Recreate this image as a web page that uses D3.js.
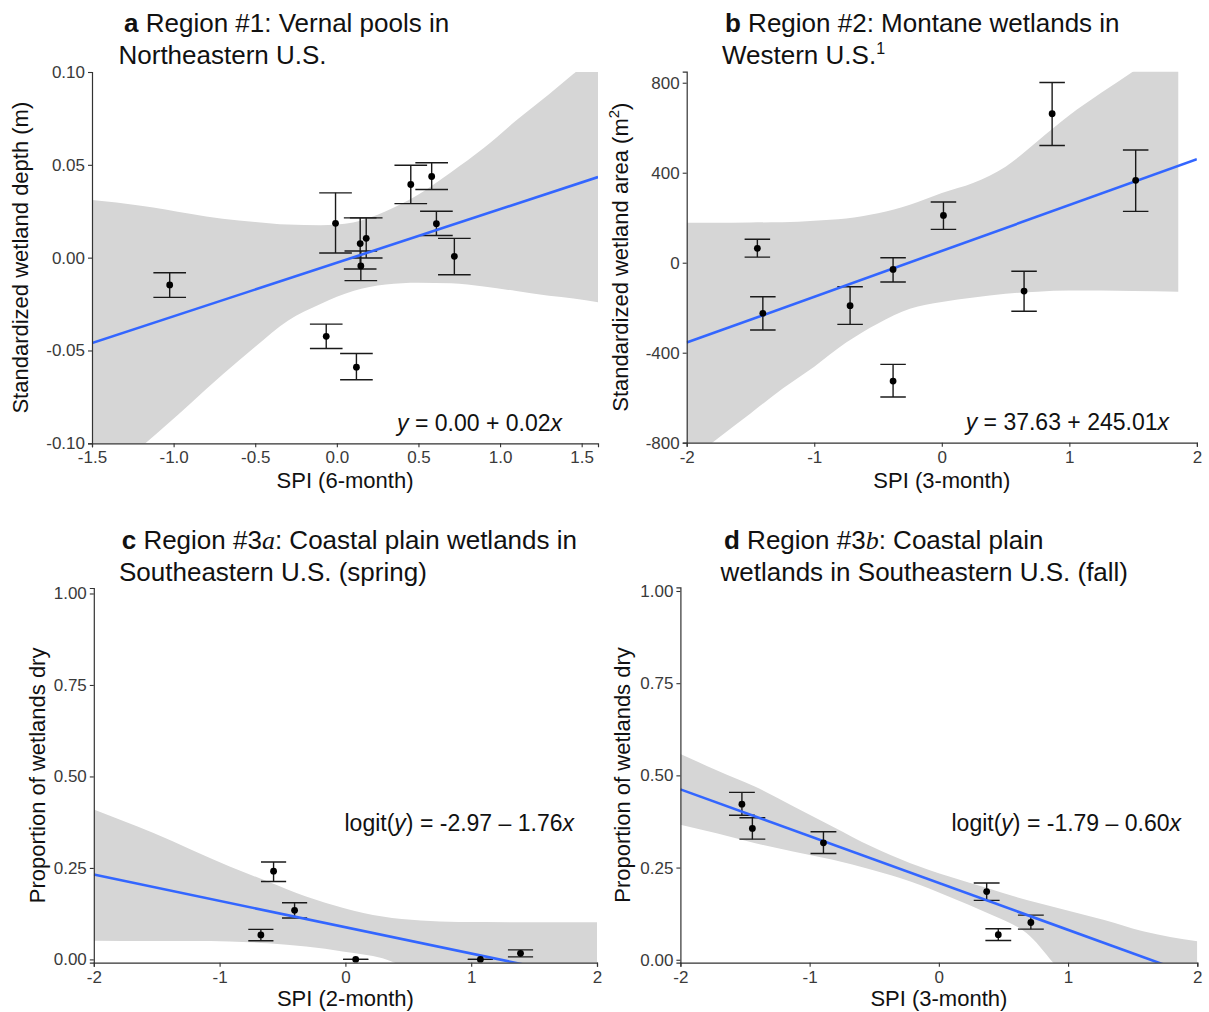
<!DOCTYPE html>
<html><head><meta charset="utf-8">
<script src="https://cdn.jsdelivr.net/npm/d3@7"></script>
<style>
body{margin:0;background:#fff}
svg{display:block}
text{font-family:"Liberation Sans",Arial,Helvetica,sans-serif}
</style>
</head><body>
<svg id="chart" width="1209" height="1012"></svg>
<script>
// ---------------- DATA ----------------
// Panel a: Region #1 vernal pools
const spiA      = [-1.024, -0.008, -0.065, 0.143, 0.180, 0.147, 0.453, 0.581, 0.610, 0.720, 0.120];
const depthA    = [-0.0147, 0.0185, -0.0424, 0.0076, 0.0104, -0.0045, 0.0394, 0.0437, 0.0183, 0.0007, -0.0590];
const depthA_lo = [-0.0214, 0.0025, -0.0489, -0.0061, -0.0002, -0.0124, 0.0291, 0.0367, 0.0119, -0.0092, -0.0658];
const depthA_hi = [-0.0081, 0.0349, -0.0358, 0.0214, 0.0214, 0.0036, 0.0498, 0.0511, 0.0250, 0.0104, -0.0516];
const lineA_x = [-1.5, 1.6];
const lineA_y = [-0.046, 0.0434];
const bandA_x  = [-1.5, -1.2, -0.9, -0.7, -0.5, -0.3, -0.1, 0.1, 0.3, 0.5, 0.7, 0.9, 1.1, 1.3, 1.45, 1.6];
const bandA_hi = [0.031, 0.028, 0.0237, 0.021, 0.0192, 0.0178, 0.0175, 0.019, 0.025, 0.034, 0.046, 0.059, 0.074, 0.088, 0.099, 0.110];
const bandA_lo = [-0.123, -0.102, -0.0788, -0.063, -0.048, -0.034, -0.025, -0.018, -0.0145, -0.0135, -0.0138, -0.0155, -0.018, -0.0205, -0.022, -0.024];
const ticksA_x = [-1.5, -1.0, -0.5, 0.0, 0.5, 1.0, 1.5];
const ticksA_y = [-0.10, -0.05, 0.00, 0.05, 0.10];

// Panel b: Region #2 montane wetlands
const spiB     = [-1.446, -1.403, -0.719, -0.382, -0.382, 0.013, 0.645, 0.865, 1.520];
const areaB    = [64, -225, -191, -30, -526, 210, -126, 662, 366];
const areaB_lo = [25, -299, -274, -86, -597, 148, -216, 521, 228];
const areaB_hi = [104, -151, -107, 22, -452, 270, -38, 801, 501];
const lineB_x = [-2, 2];
const lineB_y = [-355, 460];
const bandB_x  = [-2, -1.8, -1.5, -1.25, -1.0, -0.75, -0.5, -0.25, 0, 0.25, 0.5, 0.75, 1.0, 1.25, 1.5, 1.854];
const bandB_hi = [178, 178, 179, 180, 187, 197, 220, 258, 310, 355, 427, 540, 655, 755, 850, 990];
const bandB_lo = [-888, -800, -670, -560, -462, -355, -270, -205, -175, -155, -138, -129, -124, -124, -126, -129];
const ticksB_x = [-2, -1, 0, 1, 2];
const ticksB_y = [-800, -400, 0, 400, 800];

// Panel c: Region #3a spring
const spiC    = [-0.571, -0.404, -0.672, 0.082, 1.073, 1.392];
const dryC    = [0.241, 0.134, 0.067, 0.0, 0.0, 0.0165];
const dryC_lo = [0.213, 0.113, 0.051, 0.0, 0.0, 0.007];
const dryC_hi = [0.266, 0.155, 0.082, 0.0, 0.0, 0.026];
const lineC_x = [-2, 2];
const lineC_y = [0.232, -0.056];
const bandC_x  = [-2, -1.53, -1.225, -0.92, -0.617, -0.313, -0.009, 0.295, 0.6, 0.9, 2.0];
const bandC_hi = [0.41, 0.346, 0.30, 0.254, 0.213, 0.172, 0.14, 0.117, 0.106, 0.102, 0.1016];
const bandC_lo = [0.051, 0.050, 0.050, 0.049, 0.044, 0.035, 0.021, 0.003, -0.04, -0.08, -0.2];

// Panel d: Region #3b fall
const spiD    = [-1.524, -1.443, -0.893, 0.370, 0.460, 0.712];
const dryD    = [0.422, 0.356, 0.317, 0.185, 0.068, 0.101];
const dryD_lo = [0.392, 0.327, 0.288, 0.161, 0.052, 0.083];
const dryD_hi = [0.454, 0.385, 0.347, 0.208, 0.084, 0.121];
const lineD_x = [-2, 2];
const lineD_y = [0.462, -0.046];
const bandD_x  = [-2, -1.72, -1.42, -1.12, -0.82, -0.52, -0.22, 0.08, 0.38, 0.68, 0.98, 1.28, 1.58, 2.0];
const bandD_hi = [0.558, 0.514, 0.469, 0.415, 0.361, 0.307, 0.262, 0.226, 0.194, 0.162, 0.135, 0.108, 0.077, 0.05];
const bandD_lo = [0.366, 0.343, 0.316, 0.293, 0.271, 0.244, 0.212, 0.171, 0.126, 0.072, -0.04, -0.08, -0.12, -0.15];
const ticksCD_x = [-2, -1, 0, 1, 2];
const ticksCD_y = [0.00, 0.25, 0.50, 0.75, 1.00];

const capWidth = 0.2; // error bar cap width in x units

// ---------------- DRAW ----------------
const loc = d3.formatLocale({decimal: ".", thousands: ",", grouping: [3], currency: ["$", ""], minus: "-"});
const svg = d3.select("#chart");

function zip(xs, ys, lo, hi) { return xs.map((v, i) => ({x: v, y: ys[i], lo: lo[i], hi: hi[i]})); }

function panel(cfg) {
  const x = d3.scaleLinear().domain(cfg.xDomain).range([cfg.x0, cfg.x1]);
  const y = d3.scaleLinear().domain(cfg.yDomain).range([cfg.yBot, cfg.yTop]);
  const g = svg.append("g");
  const cid = "clip" + cfg.id;
  svg.append("clipPath").attr("id", cid).append("rect")
    .attr("x", cfg.x0).attr("y", cfg.yTop).attr("width", cfg.x1 - cfg.x0).attr("height", cfg.yBot - cfg.yTop);
  const plot = g.append("g").attr("clip-path", `url(#${cid})`);

  // band
  const band = cfg.bandX.map((v, i) => ({x: v, lo: cfg.bandLo[i], hi: cfg.bandHi[i]}));
  plot.append("path").datum(band)
    .attr("d", d3.area().x(d => x(d.x)).y0(d => y(d.lo)).y1(d => y(d.hi)).curve(d3.curveMonotoneX))
    .attr("fill", "#d6d6d6");

  // error bars
  const pts = zip(cfg.px, cfg.py, cfg.plo, cfg.phi);
  const eb = plot.append("g").attr("stroke", "#1a1a1a").attr("stroke-width", 1.4).attr("fill", "none");
  pts.forEach(d => {
    eb.append("line").attr("x1", x(d.x)).attr("x2", x(d.x)).attr("y1", y(d.lo)).attr("y2", y(d.hi));
    eb.append("line").attr("x1", x(d.x - capWidth / 2)).attr("x2", x(d.x + capWidth / 2)).attr("y1", y(d.lo)).attr("y2", y(d.lo));
    eb.append("line").attr("x1", x(d.x - capWidth / 2)).attr("x2", x(d.x + capWidth / 2)).attr("y1", y(d.hi)).attr("y2", y(d.hi));
  });

  // fit line
  const ln = cfg.lineX.map((v, i) => ({x: v, y: cfg.lineY[i]}));
  plot.append("path").datum(ln)
    .attr("d", d3.line().x(d => x(d.x)).y(d => y(d.y)))
    .attr("stroke", "#3366ff").attr("stroke-width", 2.6).attr("fill", "none");

  // points
  plot.append("g").selectAll("circle").data(pts).join("circle")
    .attr("cx", d => x(d.x)).attr("cy", d => y(d.y)).attr("r", 3.4).attr("fill", "#000");

  // axes
  const xa = g.append("g").attr("transform", `translate(0,${cfg.yBot})`)
    .call(d3.axisBottom(x).tickValues(cfg.xTicks).tickFormat(loc.format(cfg.xFmt)).tickSizeOuter(0).tickSize(4).tickPadding(4));
  const ya = g.append("g").attr("transform", `translate(${cfg.x0},0)`)
    .call(d3.axisLeft(y).tickValues(cfg.yTicks).tickFormat(loc.format(cfg.yFmt)).tickSizeOuter(0).tickSize(4).tickPadding(3));
  [xa, ya].forEach(a => {
    a.select(".domain").attr("stroke", "#333").attr("stroke-width", 1.2);
    a.selectAll(".tick line").attr("stroke", "#333").attr("stroke-width", 1.1);
    a.selectAll(".tick text").attr("font-size", 17).attr("fill", "#3a3a3a")
      .attr("font-family", '"Liberation Sans",Arial,sans-serif');
  });

  // axis titles
  g.append("text").attr("x", (cfg.x0 + cfg.x1) / 2).attr("y", cfg.xTitleY)
    .attr("text-anchor", "middle").attr("font-size", 22).attr("fill", "#111").text(cfg.xTitle);
  const yt = g.append("text").attr("transform", `translate(${cfg.yTitleX},${(cfg.yTop + cfg.yBot) / 2}) rotate(-90)`)
    .attr("text-anchor", "middle").attr("font-size", 22).attr("fill", "#111");
  cfg.yTitle(yt);

  // equation
  const eq = g.append("text").attr("x", cfg.eqX).attr("y", cfg.eqY).attr("text-anchor", "end")
    .attr("font-size", 23).attr("fill", "#111");
  cfg.eq(eq);

  // title
  const t1 = g.append("text").attr("x", cfg.t1X).attr("y", cfg.t1Y).attr("font-size", 26).attr("fill", "#111");
  cfg.title1(t1);
  const t2 = g.append("text").attr("x", cfg.t2X).attr("y", cfg.t1Y + 32).attr("font-size", 26).attr("fill", "#111");
  cfg.title2(t2);
}

const serifIt = t => t.append("tspan").attr("font-family", '"Liberation Serif","Times New Roman",serif').attr("font-style", "italic");

panel({
  id: "A", x0: 92, x1: 598, yTop: 72, yBot: 443.3,
  xDomain: [-1.5, 1.6], yDomain: [-0.10, 0.10],
  px: spiA, py: depthA, plo: depthA_lo, phi: depthA_hi,
  lineX: lineA_x, lineY: lineA_y,
  bandX: bandA_x, bandLo: bandA_lo, bandHi: bandA_hi,
  xTicks: ticksA_x, yTicks: ticksA_y, xFmt: ".1f", yFmt: ".2f",
  xTitle: "SPI (6-month)", xTitleY: 488, yTitleX: 28,
  yTitle: t => t.text("Standardized wetland depth (m)"),
  eqX: 562, eqY: 431,
  eq: t => { t.append("tspan").attr("font-style", "italic").text("y"); t.append("tspan").text(" = 0.00 + 0.02"); t.append("tspan").attr("font-style", "italic").text("x"); },
  t1X: 124, t1Y: 32, t2X: 118.5,
  title1: t => { t.append("tspan").attr("font-weight", "bold").text("a"); t.append("tspan").text(" Region #1: Vernal pools in"); },
  title2: t => t.text("Northeastern U.S.")
});

panel({
  id: "B", x0: 686.7, x1: 1196.9, yTop: 71.7, yBot: 442.7,
  xDomain: [-2, 2], yDomain: [-800, 849],
  px: spiB, py: areaB, plo: areaB_lo, phi: areaB_hi,
  lineX: lineB_x, lineY: lineB_y,
  bandX: bandB_x, bandLo: bandB_lo, bandHi: bandB_hi,
  xTicks: ticksB_x, yTicks: ticksB_y, xFmt: "d", yFmt: "d",
  xTitle: "SPI (3-month)", xTitleY: 488, yTitleX: 628,
  yTitle: t => { t.append("tspan").text("Standardized wetland area (m"); t.append("tspan").attr("font-size", 15).attr("dy", -9).text("2"); t.append("tspan").attr("dy", 9).text(")"); },
  eqX: 1169, eqY: 430,
  eq: t => { t.append("tspan").attr("font-style", "italic").text("y"); t.append("tspan").text(" = 37.63 + 245.01"); t.append("tspan").attr("font-style", "italic").text("x"); },
  t1X: 725, t1Y: 32, t2X: 722,
  title1: t => { t.append("tspan").attr("font-weight", "bold").text("b"); t.append("tspan").text(" Region #2: Montane wetlands in"); },
  title2: t => { t.append("tspan").text("Western U.S."); t.append("tspan").attr("font-size", 16).attr("dy", -10).text("1"); }
});

panel({
  id: "C", x0: 93.8, x1: 597, yTop: 588, yBot: 962.7,
  xDomain: [-2, 2], yDomain: [-0.009, 1.015],
  px: spiC, py: dryC, plo: dryC_lo, phi: dryC_hi,
  lineX: lineC_x, lineY: lineC_y,
  bandX: bandC_x, bandLo: bandC_lo, bandHi: bandC_hi,
  xTicks: ticksCD_x, yTicks: ticksCD_y, xFmt: "d", yFmt: ".2f",
  xTitle: "SPI (2-month)", xTitleY: 1006, yTitleX: 44.5,
  yTitle: t => t.text("Proportion of wetlands dry"),
  eqX: 574, eqY: 831,
  eq: t => { t.append("tspan").text("logit("); t.append("tspan").attr("font-style", "italic").text("y"); t.append("tspan").text(") = -2.97 \u2013 1.76"); t.append("tspan").attr("font-style", "italic").text("x"); },
  t1X: 121.7, t1Y: 549, t2X: 119,
  title1: t => { t.append("tspan").attr("font-weight", "bold").text("c"); t.append("tspan").text(" Region #3"); serifIt(t).text("a"); t.append("tspan").text(": Coastal plain wetlands in"); },
  title2: t => t.text("Southeastern U.S. (spring)")
});

panel({
  id: "D", x0: 680.4, x1: 1197.3, yTop: 587.3, yBot: 962.7,
  xDomain: [-2, 2], yDomain: [-0.008, 1.01],
  px: spiD, py: dryD, plo: dryD_lo, phi: dryD_hi,
  lineX: lineD_x, lineY: lineD_y,
  bandX: bandD_x, bandLo: bandD_lo, bandHi: bandD_hi,
  xTicks: ticksCD_x, yTicks: ticksCD_y, xFmt: "d", yFmt: ".2f",
  xTitle: "SPI (3-month)", xTitleY: 1006, yTitleX: 630,
  yTitle: t => t.text("Proportion of wetlands dry"),
  eqX: 1181, eqY: 831,
  eq: t => { t.append("tspan").text("logit("); t.append("tspan").attr("font-style", "italic").text("y"); t.append("tspan").text(") = -1.79 \u2013 0.60"); t.append("tspan").attr("font-style", "italic").text("x"); },
  t1X: 724, t1Y: 549, t2X: 720.5,
  title1: t => { t.append("tspan").attr("font-weight", "bold").text("d"); t.append("tspan").text(" Region #3"); serifIt(t).text("b"); t.append("tspan").text(": Coastal plain"); },
  title2: t => t.text("wetlands in Southeastern U.S. (fall)")
});
</script>
</body></html>
